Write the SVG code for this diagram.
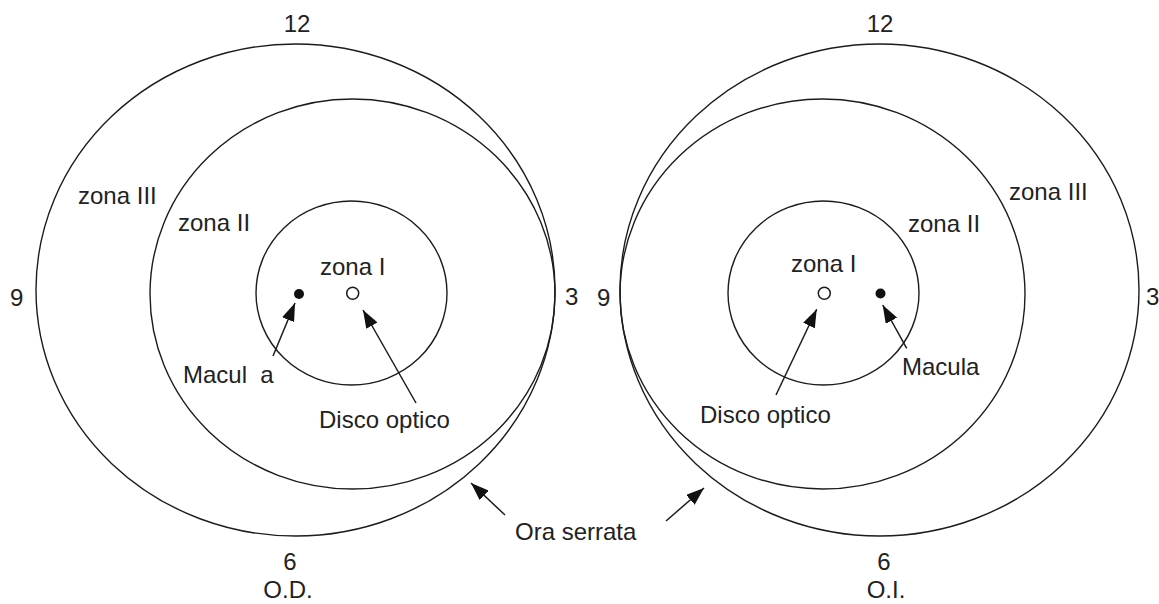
<svg xmlns="http://www.w3.org/2000/svg" width="1159" height="604" viewBox="0 0 1159 604">
  <style>
    .ring { fill: none; stroke: #1c1c1c; stroke-width: 1.4; }
    .lbl { font-family: "Liberation Sans", Arial, sans-serif; font-size: 24px; fill: #222; white-space: pre; }
    .mid { text-anchor: middle; }
    .arrow { stroke: #1c1c1c; stroke-width: 1.5; fill: none; marker-end: url(#head); }
    .macula { fill: #111; }
    .disc { fill: #fff; stroke: #1c1c1c; stroke-width: 1.5; }
  </style>
  <defs>
    <marker id="head" markerUnits="userSpaceOnUse" viewBox="0 0 18 13" refX="18" refY="6.5" markerWidth="18" markerHeight="13" orient="auto">
      <path d="M0,0 L18,6.5 L0,13 Z" fill="#111"/>
    </marker>
  </defs>
  <rect width="1159" height="604" fill="#fff"/>

  <!-- Left eye: O.D. -->
  <g id="od">
    <g id="od-zone3"><ellipse class="ring" cx="295.5" cy="290" rx="259.5" ry="246"/><text class="lbl" x="78" y="204">zona III</text></g>
    <g id="od-zone2"><ellipse class="ring" cx="352.5" cy="294" rx="202.5" ry="195"/><text class="lbl" x="178" y="231">zona II</text></g>
    <g id="od-zone1"><ellipse class="ring" cx="351.5" cy="293" rx="95.5" ry="92"/><text class="lbl" x="320" y="275">zona I</text></g>
    <g id="od-macula"><circle class="macula" cx="299" cy="294" r="5"/><text class="lbl" x="183" y="383" xml:space="preserve">Macul  a</text></g>
    <g id="od-disc"><circle class="disc" cx="352.7" cy="293.3" r="6"/><text class="lbl" x="319" y="428">Disco optico</text></g>
    <g id="od-clock">
      <text class="lbl mid" x="297" y="32">12</text>
      <text class="lbl" x="10" y="306">9</text>
      <text class="lbl" x="565" y="305">3</text>
      <text class="lbl mid" x="290" y="570">6</text>
      <text class="lbl mid" x="288" y="598">O.D.</text>
    </g>
  </g>

  <!-- Right eye: O.I. -->
  <g id="oi">
    <g id="oi-zone3"><ellipse class="ring" cx="879.5" cy="290" rx="259.5" ry="246"/><text class="lbl" x="1009" y="200">zona III</text></g>
    <g id="oi-zone2"><ellipse class="ring" cx="822.5" cy="294" rx="202.5" ry="195"/><text class="lbl" x="908" y="232">zona II</text></g>
    <g id="oi-zone1"><ellipse class="ring" cx="823.5" cy="293" rx="95.5" ry="92"/><text class="lbl" x="791" y="272">zona I</text></g>
    <g id="oi-disc"><circle class="disc" cx="824.3" cy="293.3" r="6"/><text class="lbl" x="700" y="423">Disco optico</text></g>
    <g id="oi-macula"><circle class="macula" cx="880.5" cy="293.5" r="5"/><text class="lbl" x="902" y="375">Macula</text></g>
    <g id="oi-clock">
      <text class="lbl mid" x="880" y="32">12</text>
      <text class="lbl" x="597" y="306">9</text>
      <text class="lbl" x="1146" y="305">3</text>
      <text class="lbl mid" x="884" y="570">6</text>
      <text class="lbl mid" x="886" y="598">O.I.</text>
    </g>
  </g>

  <g id="ora-serrata"><text class="lbl" x="515" y="540">Ora serrata</text></g>

  <g id="connectors">
    <line class="arrow" x1="273" y1="356" x2="295" y2="303"/>
    <line class="arrow" x1="416" y1="403" x2="363" y2="310"/>
    <line class="arrow" x1="505" y1="515" x2="471" y2="483"/>
    <line class="arrow" x1="666" y1="521" x2="704" y2="488"/>
    <line class="arrow" x1="776" y1="395" x2="816.7" y2="309.3"/>
    <line class="arrow" x1="906.7" y1="348.3" x2="882.7" y2="305"/>
  </g>
</svg>
